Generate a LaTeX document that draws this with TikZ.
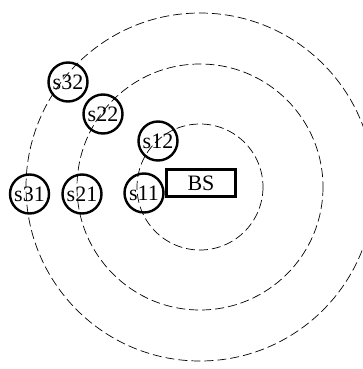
\documentclass[tikz,border=0pt]{standalone}
\usepackage{fontspec}
\setmainfont{Liberation Serif}
\usepackage{tikz}
\usetikzlibrary{positioning}

\tikzset{
  sensor/.style={circle, draw, line width=2.4pt, minimum size=39pt, inner sep=0pt, font=\fontsize{22}{24}\selectfont},
  station/.style={rectangle, draw, line width=2.4pt, minimum width=69pt, minimum height=27pt, inner sep=0pt, font=\fontsize{22}{24}\selectfont},
  ring/.style={dash pattern=on 9pt off 4pt, line width=0.7pt}
}

\begin{document}
\begin{tikzpicture}[x=1pt,y=-1pt]
\useasboundingbox (0,0) rectangle (363,369);

\coordinate (c) at (200,187);

% rings
\draw[ring] (c) circle (63);
\draw[ring] (c) circle (123);
\draw[ring] (c) circle (174);

% base station
\node[station](bs) at (201,183) {BS};

% sensors
\node[sensor](s11) at (144,193) {s11};
\node[sensor](s12) at (158,141) {s12};
\node[sensor](s21) at (82,194) {s21};
\node[sensor](s22) at (103,114) {s22};
\node[sensor](s31) at (29.5,194) {s31};
\node[sensor](s32) at (68,82) {s32};

\end{tikzpicture}
\end{document}
